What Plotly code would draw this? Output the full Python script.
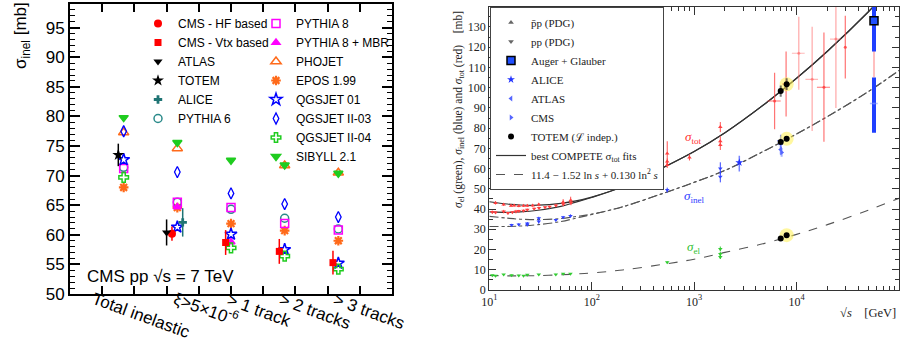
import plotly.graph_objects as go

# ---------------- Left panel data (CMS inelastic, sqrt(s)=7 TeV) ----------------
categories = ["Total inelastic", "ξ>5×10<sup>-6</sup>", "> 1 track", "> 2 tracks", "> 3 tracks"]

cms_hf_cat = [1]
cms_hf_val = [60.2]
cms_hf_err = [1.2]
cms_vtx_cat = [2, 3, 4]
cms_vtx_val = [58.7, 57.2, 55.3]
cms_vtx_err = [2.1, 2.1, 2.0]
atlas_cat = [1]
atlas_val = [60.4]
atlas_err = [2.2]
totem_cat = [0]
totem_val = [73.5]
totem_err = [1.9]
alice_cat = [1]
alice_val = [62.1]
alice_err = [2.4]

pythia6 = [71.4, 65.5, 64.3, 62.8, 61.0]
pythia8 = [71.2, 65.5, 64.6, 61.9, 60.8]
pythia8_mbr = [None, 64.7, 58.8, None, None]
phojet = [77.3, 74.6, None, 71.7, 70.5]
epos = [68.0, 64.6, 61.9, 60.7, 59.0]
qgsjet01 = [72.7, 61.3, 60.1, 57.5, 55.2]
qgsjet2_03 = [77.5, 70.6, 67.0, 65.2, 63.0]
qgsjet2_04 = [69.7, None, 57.8, 56.4, 54.2]
sibyll = [79.8, 75.6, 72.6, 71.8, 70.4]

# ---------------- Right panel data (sigma vs sqrt(s)) ----------------
curve_sqrt_s = [10, 15, 20, 30, 50, 70, 100, 200, 500, 1000, 2000, 5000, 10000, 20000, 50000, 100000]
fit_tot_ppbar = [43.6, 42.5, 42.0, 41.9, 42.8, 44.0, 45.9, 51.0, 60.5, 68.4, 77.7, 92.3, 104.6, 118.0, 137.4, 153.6]
fit_tot_pp = [38.6, 38.4, 38.6, 39.4, 41.3, 43.4, 45.7, 51.0, 60.5, 68.4, 77.7, 92.3, 104.6, 118.0, 137.4, 153.6]
fit_inel_ppbar = [36.4, 35.5, 35.0, 34.8, 35.3, 36.3, 37.5, 41.1, 47.8, 53.2, 59.1, 69.1, 77.1, 85.7, 98.0, 108.5]
fit_inel_pp = [31.4, 31.4, 31.6, 32.3, 33.8, 35.5, 37.3, 41.1, 47.8, 53.2, 59.1, 69.1, 77.1, 85.7, 98.0, 108.5]
fit_el = [7.2, 7.0, 7.0, 7.1, 7.5, 7.9, 8.4, 9.9, 12.7, 15.2, 18.6, 23.2, 27.5, 32.3, 39.4, 45.3]

ppbar_tot_s = [11.5, 13.8, 16.3, 17.5, 19.4, 21.6, 23.5, 26.5, 30.4, 52.6, 62.3, 546, 546, 546, 900, 1800, 1800, 1800]
ppbar_tot = [43.0, 42.2, 41.6, 41.8, 41.5, 41.6, 41.6, 41.8, 42.2, 43.4, 44.3, 67.5, 63.5, 61.8, 65.5, 80.5, 73.5, 71.6]
ppbar_tot_err = [0.8, 0.7, 0.6, 0.6, 0.6, 0.6, 0.6, 0.7, 0.8, 1.5, 1.8, 6.0, 1.5, 1.5, 1.5, 2.5, 2.5, 2.4]
pp_tot_s = [10.7, 11.5, 13.8, 15.2, 16.8, 18.2, 19.4, 21.6, 23.5, 27.4, 30.6, 35.0, 38.8, 44.7, 52.8, 62.7]
pp_tot = [38.5, 38.3, 38.8, 38.0, 38.4, 38.8, 39.0, 39.2, 39.6, 40.2, 40.5, 40.9, 41.2, 41.8, 42.4, 43.1]
pp_tot_err = [0.8, 0.6, 0.8, 0.6, 0.6, 0.8, 0.6, 0.6, 0.6, 0.5, 0.6, 0.5, 0.5, 0.8, 1.0, 1.2]

low_inel_s = [16.5, 19.4, 23.5, 23.5, 30.4, 30.4, 44.6, 52.6, 62.0, 546, 1800, 1800]
low_inel = [32.1, 32.4, 32.9, 32.3, 33.8, 35.4, 34.6, 35.9, 36.6, 49.4, 60.1, 56.0]
low_inel_err = [0.6, 0.6, 0.7, 0.7, 1.0, 0.8, 0.6, 0.7, 0.8, 1.2, 3.0, 2.8]

low_el_s = [10.7, 11.5, 13.8, 16.5, 19.4, 21.6, 23.5, 30.4, 44.6, 52.6, 62.0, 546, 1800, 1800, 1800]
low_el = [7.3, 7.0, 7.6, 7.3, 7.2, 7.1, 7.5, 7.6, 7.7, 8.0, 8.0, 13.7, 20.3, 17.8, 16.3]
low_el_err = [0.3, 0.3, 0.3, 0.3, 0.3, 0.3, 0.3, 0.3, 0.3, 0.3, 0.3, 0.5, 1.2, 1.0, 1.0]

cosmic_dark_s = [6100, 7900, 18500, 29900]
cosmic_dark = [93.4, 101.8, 100.2, 120.0]
cosmic_dark_err = [14.0, 16.0, 27.0, 15.5]
cosmic_dark_xerr = [900, 700, 2700, 0]
cosmic_light_s = [10500, 14200, 24200]
cosmic_light = [117.0, 104.1, 124.0]
cosmic_light_err_up = [18.0, 26.0, 20.0]
cosmic_light_err_dn = [18.0, 25.5, 34.0]
cosmic_light_xerr = [1500, 2000, 3000]

auger_s = [57000]
auger_tot = [133.0]
auger_inel = [92.2]

alice_s = [2760, 7000]
alice_inel = [63.0, 73.2]
alice_inel_up = [3.3, 3.5]
alice_inel_dn = [4.5, 3.6]
atlas_s = [7000]
atlas_inel = [69.4]
atlas_inel_err = [2.4]
cms_s = [7150]
cms_inel = [68.0]
cms_inel_err = [2.2]

totem_s = [7000, 8000]
totem_tot = [98.3, 101.7]
totem_inel = [73.1, 74.7]
totem_el = [25.4, 27.1]

# ---------------- layout helpers ----------------
W, H = 905, 339
def pxx(x): return x / W
def pxy(y): return 1 - y / H

SANS = "Liberation Sans, Arial, sans-serif"
SERIF = "Liberation Serif, DejaVu Serif, serif"

fig = go.Figure()

def catx(idx, off=0.0):
    return [i + 1 + off for i in idx]

def add_model(name, vals, symbol, color, legend, rank, size=8, lw=1.5):
    xs = [i + 1 for i, v in enumerate(vals) if v is not None]
    ys = [v for v in vals if v is not None]
    fig.add_trace(go.Scatter(
        x=xs, y=ys, mode="markers", name=name, legend=legend, legendrank=rank,
        marker=dict(symbol=symbol, size=size, color=color, line=dict(color=color, width=lw)),
        xaxis="x", yaxis="y"))

RED = "#ff0000"; BLUE = "#0000ff"; GREEN = "#1fcc1f"; ORANGE = "#ff6a1a"
MAG = "#ff00ff"; TEAL = "#2a8a8a"; DTEAL = "#1f7474"

add_model("PHOJET", phojet, "triangle-up-open", ORANGE, "legend2", 3, 9)
add_model("EPOS 1.99", epos, "asterisk-open", ORANGE, "legend2", 4, 8, 2.2)
add_model("PYTHIA 6", pythia6, "circle-open", TEAL, "legend", 6, 8)
add_model("PYTHIA 8", pythia8, "square-open", MAG, "legend2", 1, 8)
add_model("PYTHIA 8 + MBR", pythia8_mbr, "triangle-up", MAG, "legend2", 2, 7)
add_model("QGSJET II-03", qgsjet2_03, "diamond-tall-open", BLUE, "legend2", 6, 8, 1.3)
add_model("QGSJET 01", qgsjet01, "star-open", BLUE, "legend2", 5, 9)
add_model("QGSJET II-04", qgsjet2_04, "cross-open", GREEN, "legend2", 7, 8)
add_model("SIBYLL 2.1", sibyll, "triangle-down", GREEN, "legend2", 8, 8)

def add_data(name, cats, vals, errs, off, symbol, color, size, rank):
    fig.add_trace(go.Scatter(
        x=catx(cats, off), y=vals, mode="markers", name=name, legend="legend", legendrank=rank,
        error_y=dict(type="data", array=errs, color=color, thickness=1.5, width=0),
        marker=dict(symbol=symbol, size=size, color=color, line=dict(width=0)),
        xaxis="x", yaxis="y"))

add_data("CMS - HF based", cms_hf_cat, cms_hf_val, cms_hf_err, -0.1, "circle", RED, 8, 1)
add_data("CMS - Vtx based", cms_vtx_cat, cms_vtx_val, cms_vtx_err, -0.1, "square", RED, 7, 2)
add_data("ATLAS", atlas_cat, atlas_val, atlas_err, -0.2, "triangle-down", "black", 8, 3)
add_data("TOTEM", totem_cat, totem_val, totem_err, -0.1, "star", "black", 9, 4)
add_data("ALICE", alice_cat, alice_val, alice_err, 0.1, "cross", DTEAL, 7, 5)

# ---------------- Right panel traces ----------------
GRAY = "#555555"
fig.add_trace(go.Scatter(x=curve_sqrt_s, y=fit_tot_ppbar, mode="lines", line=dict(color="#333333", width=1.2, shape="spline"),
                         name="best COMPETE σ<sub>tot</sub> fits", legend="legend3", legendrank=8, xaxis="x2", yaxis="y2"))
fig.add_trace(go.Scatter(x=curve_sqrt_s, y=fit_tot_pp, mode="lines", line=dict(color="#333333", width=1.2, shape="spline"),
                         showlegend=False, xaxis="x2", yaxis="y2"))
fig.add_trace(go.Scatter(x=curve_sqrt_s, y=fit_inel_ppbar, mode="lines", line=dict(color=GRAY, width=1.1, dash="dashdot", shape="spline"),
                         showlegend=False, xaxis="x2", yaxis="y2"))
fig.add_trace(go.Scatter(x=curve_sqrt_s, y=fit_inel_pp, mode="lines", line=dict(color=GRAY, width=1.1, dash="dashdot", shape="spline"),
                         showlegend=False, xaxis="x2", yaxis="y2"))
fig.add_trace(go.Scatter(x=curve_sqrt_s, y=fit_el, mode="lines", line=dict(color=GRAY, width=1.1, dash="dash", shape="spline"),
                         name="11.4 − 1.52 ln <i>s</i> + 0.130 ln<sup>2</sup> <i>s</i>", legend="legend3", legendrank=9,
                         xaxis="x2", yaxis="y2"))

# cosmic-ray sigma_tot points
fig.add_trace(go.Scatter(x=cosmic_light_s, y=cosmic_light, mode="markers", showlegend=False,
                         marker=dict(size=3, color="rgba(255,90,90,0.5)"),
                         error_y=dict(type="data", array=cosmic_light_err_up, arrayminus=cosmic_light_err_dn,
                                      color="rgba(255,100,100,0.45)", thickness=1.5, width=0),
                         error_x=dict(type="data", array=cosmic_light_xerr, color="rgba(255,100,100,0.45)", thickness=1.2, width=0),
                         xaxis="x2", yaxis="y2"))
fig.add_trace(go.Scatter(x=cosmic_dark_s, y=cosmic_dark, mode="markers", showlegend=False,
                         marker=dict(size=3, color="rgba(255,60,60,0.8)"),
                         error_y=dict(type="data", array=cosmic_dark_err, color="rgba(255,70,70,0.75)", thickness=1.2, width=0),
                         error_x=dict(type="data", array=cosmic_dark_xerr, color="rgba(255,70,70,0.75)", thickness=1.2, width=0),
                         xaxis="x2", yaxis="y2"))

# Auger
fig.add_trace(go.Scatter(x=auger_s, y=auger_tot, mode="markers", showlegend=False, marker=dict(size=2, color="rgba(255,90,90,0.6)"),
                         error_y=dict(type="data", array=[30], arrayminus=[28], color="rgba(255,100,100,0.55)", thickness=1.5, width=0),
                         error_x=dict(type="data", array=[5000], arrayminus=[5000], color="rgba(255,90,90,0.7)", thickness=1.2, width=0),
                         xaxis="x2", yaxis="y2"))
fig.add_trace(go.Scatter(x=auger_s, y=auger_inel, mode="markers", showlegend=False, marker=dict(size=2, color="rgba(120,140,255,0.6)"),
                         error_y=dict(type="data", array=[12.8], arrayminus=[14.5], color="#1f3fff", thickness=4, width=0),
                         error_x=dict(type="data", array=[5000], arrayminus=[5000], color="rgba(120,140,255,0.6)", thickness=1.5, width=0),
                         xaxis="x2", yaxis="y2"))
fig.add_trace(go.Scatter(x=auger_s, y=auger_tot, mode="markers", name="Auger + Glauber", legend="legend3", legendrank=3,
                         marker=dict(symbol="square", size=8, color="#1f4fff", line=dict(color="black", width=1.5)),
                         error_y=dict(type="data", array=[20], arrayminus=[15.2], color="#1f3fff", thickness=4, width=0),
                         xaxis="x2", yaxis="y2"))

# PDG low-energy data
fig.add_trace(go.Scatter(x=ppbar_tot_s, y=ppbar_tot, mode="markers", showlegend=False,
                         marker=dict(symbol="triangle-up", size=4, color="#ff4040"),
                         error_y=dict(type="data", array=ppbar_tot_err, color="#ff5050", thickness=1, width=0),
                         xaxis="x2", yaxis="y2"))
fig.add_trace(go.Scatter(x=pp_tot_s, y=pp_tot, mode="markers", showlegend=False,
                         marker=dict(symbol="triangle-down", size=4, color="#ff4040"),
                         error_y=dict(type="data", array=pp_tot_err, color="#ff5050", thickness=1, width=0),
                         xaxis="x2", yaxis="y2"))
fig.add_trace(go.Scatter(x=low_inel_s, y=low_inel, mode="markers", showlegend=False,
                         marker=dict(symbol="triangle-down", size=4, color="#3344ff"),
                         error_y=dict(type="data", array=low_inel_err, color="#3344ff", thickness=1, width=0),
                         xaxis="x2", yaxis="y2"))
fig.add_trace(go.Scatter(x=low_el_s, y=low_el, mode="markers", showlegend=False,
                         marker=dict(symbol="triangle-down", size=4, color="#33cc33"),
                         error_y=dict(type="data", array=low_el_err, color="#33cc33", thickness=1, width=0),
                         xaxis="x2", yaxis="y2"))

# legend-only PDG entries
fig.add_trace(go.Scatter(x=[None], y=[None], mode="markers", name="p\u0304p (PDG)", legend="legend3", legendrank=1,
                         marker=dict(symbol="triangle-up", size=5, color="#666666"), xaxis="x2", yaxis="y2"))
fig.add_trace(go.Scatter(x=[None], y=[None], mode="markers", name="pp (PDG)", legend="legend3", legendrank=2,
                         marker=dict(symbol="triangle-down", size=5, color="#666666"), xaxis="x2", yaxis="y2"))

# LHC inelastic
fig.add_trace(go.Scatter(x=alice_s, y=alice_inel, mode="markers", name="ALICE", legend="legend3", legendrank=4,
                         marker=dict(symbol="star", size=6, color="#2233ff"),
                         error_y=dict(type="data", array=alice_inel_up, arrayminus=alice_inel_dn, color="rgba(60,80,255,0.7)", thickness=1.5, width=0),
                         xaxis="x2", yaxis="y2"))
fig.add_trace(go.Scatter(x=atlas_s, y=atlas_inel, mode="markers", name="ATLAS", legend="legend3", legendrank=5,
                         marker=dict(symbol="triangle-left", size=5, color="#5566ff"),
                         error_y=dict(type="data", array=atlas_inel_err, color="rgba(90,110,255,0.55)", thickness=2, width=0),
                         xaxis="x2", yaxis="y2"))
fig.add_trace(go.Scatter(x=cms_s, y=cms_inel, mode="markers", name="CMS", legend="legend3", legendrank=6,
                         marker=dict(symbol="triangle-right", size=5, color="#5566ff"),
                         error_y=dict(type="data", array=cms_inel_err, color="rgba(90,110,255,0.55)", thickness=2, width=0),
                         xaxis="x2", yaxis="y2"))

# TOTEM with yellow halos at 8 TeV
halo_s = [totem_s[1]] * 3
halo_y = [totem_tot[1], totem_inel[1], totem_el[1]]
fig.add_trace(go.Scatter(x=halo_s, y=halo_y, mode="markers", showlegend=False,
                         marker=dict(size=14, color="rgba(255,240,80,0.55)"), xaxis="x2", yaxis="y2"))
fig.add_trace(go.Scatter(x=totem_s + totem_s + totem_s, y=totem_tot + totem_inel + totem_el, mode="markers",
                         name="TOTEM (ℒ indep.)", legend="legend3", legendrank=7,
                         marker=dict(symbol="circle", size=6, color="black"),
                         error_y=dict(type="data", array=[2.8, 2.9, 0.8, 1.3, 0.7, 0.8], color="rgba(60,60,60,0.7)", thickness=2, width=0),
                         xaxis="x2", yaxis="y2"))

# ---------------- axes ----------------
left_x_dom = [pxx(70), pxx(392)]
left_y_dom = [pxy(294), pxy(4)]
right_x_dom = [pxx(489.3), pxx(899)]
right_y_dom = [pxy(290), pxy(6.7)]

minor_log = [m * 10 ** e for e in range(1, 5) for m in range(2, 10)]

fig.update_layout(
    width=W, height=H,
    margin=dict(l=0, r=0, t=0, b=0, autoexpand=False),
    paper_bgcolor="white", plot_bgcolor="white",
    xaxis=dict(domain=left_x_dom, range=[0, 6], tickmode="array", tickvals=[0.6 * i for i in range(11)],
               showticklabels=False, ticks="inside", ticklen=8, tickwidth=1.5, tickcolor="black", automargin=False,
               showline=True, linecolor="black", linewidth=2, mirror="allticks", showgrid=False, zeroline=False),
    yaxis=dict(domain=left_y_dom, range=[50, 99], tickmode="linear", tick0=50, dtick=5, automargin=False,
               ticks="inside", ticklen=10, tickwidth=1.5, tickcolor="black",
               minor=dict(dtick=1, ticks="inside", ticklen=5, tickcolor="black", tickwidth=1),
               showline=True, linecolor="black", linewidth=2, mirror="allticks", showgrid=False, zeroline=False,
               tickfont=dict(family=SANS, size=17, color="black")),
    xaxis2=dict(domain=right_x_dom, type="log", range=[1, 5], tickmode="array", automargin=False,
                tickvals=[10, 100, 1000, 10000, 100000],
                ticktext=["10<sup>1</sup>", "10<sup>2</sup>", "10<sup>3</sup>", "10<sup>4</sup>", "10<sup>5</sup>"],
                ticks="inside", ticklen=8, tickcolor="#333", tickwidth=1,
                minor=dict(tickmode="array", tickvals=minor_log, ticks="inside", ticklen=4, tickcolor="#333", tickwidth=1),
                showline=True, linecolor="#333", linewidth=1.2, mirror="allticks", showgrid=False, zeroline=False,
                tickfont=dict(family=SERIF, size=12, color="#222"), anchor="y2"),
    yaxis2=dict(domain=right_y_dom, range=[0, 140], tickmode="linear", tick0=0, dtick=10, automargin=False,
                ticks="inside", ticklen=7, tickcolor="#333", tickwidth=1,
                minor=dict(dtick=5, ticks="inside", ticklen=4, tickcolor="#333", tickwidth=1),
                showline=True, linecolor="#333", linewidth=1.2, mirror="allticks", showgrid=False, zeroline=False,
                tickfont=dict(family=SERIF, size=12, color="#222"), anchor="x2"),
    legend=dict(x=pxx(138), y=pxy(9), xanchor="left", yanchor="top", bgcolor="rgba(0,0,0,0)",
                font=dict(family=SANS, size=12, color="black"), tracegroupgap=0),
    legend2=dict(x=pxx(256), y=pxy(9), xanchor="left", yanchor="top", bgcolor="rgba(0,0,0,0)",
                 font=dict(family=SANS, size=12, color="black"), tracegroupgap=0),
    legend3=dict(x=pxx(490), y=pxy(7), xanchor="left", yanchor="top", bgcolor="white",
                 bordercolor="#444", borderwidth=1,
                 font=dict(family=SERIF, size=11, color="#222"), tracegroupgap=0),
)

# ---------------- annotations ----------------
ann = []
ann.append(dict(text="σ<sub>inel</sub> [mb]", x=pxx(22), y=pxy(36), xref="paper", yref="paper", showarrow=False,
                textangle=-90, font=dict(family=SANS, size=17, color="black"), xanchor="center", yanchor="middle"))
ann.append(dict(text="CMS pp √s = 7 TeV", x=pxx(85), y=pxy(276), xref="paper", yref="paper", showarrow=False,
                font=dict(family=SANS, size=17, color="black"), xanchor="left", yanchor="middle"))
label_centers = [(141, 315), (206, 308), (259, 310), (315, 311), (369, 311)]
for lab, (cx, cy) in zip(categories, label_centers):
    ann.append(dict(text=lab, x=pxx(cx), y=pxy(cy), xref="paper", yref="paper", showarrow=False, textangle=20,
                    font=dict(family=SANS, size=17, color="black"), xanchor="center", yanchor="middle"))

ann.append(dict(text="<i>σ</i><sub>tot</sub>", x=2.99, y=75.6, xref="x2", yref="y2", showarrow=False,
                font=dict(family=SERIF, size=13, color="#ff3030")))
ann.append(dict(text="<i>σ</i><sub>inel</sub>", x=3.0, y=46.0, xref="x2", yref="y2", showarrow=False,
                font=dict(family=SERIF, size=13, color="#3040ff")))
ann.append(dict(text="<i>σ</i><sub>el</sub>", x=2.99, y=21.2, xref="x2", yref="y2", showarrow=False,
                font=dict(family=SERIF, size=13, color="#30c030")))
ann.append(dict(text="<i>σ</i><sub>el</sub> (green), <i>σ</i><sub>inel</sub> (blue) and <i>σ</i><sub>tot</sub> (red)    [mb]",
                x=pxx(459), y=pxy(110), xref="paper", yref="paper", showarrow=False, textangle=-90,
                font=dict(family=SERIF, size=11.5, color="#222"), xanchor="center", yanchor="middle"))
ann.append(dict(text="√<i>s</i>    [GeV]", x=pxx(898), y=pxy(313), xref="paper", yref="paper", showarrow=False,
                font=dict(family=SERIF, size=12.5, color="#222"), xanchor="right", yanchor="middle"))
fig.update_layout(annotations=ann)

fig.write_html("out.html", config={"displayModeBar": False},
               post_script="document.body.style.margin='0px';document.body.style.overflow='hidden';")
